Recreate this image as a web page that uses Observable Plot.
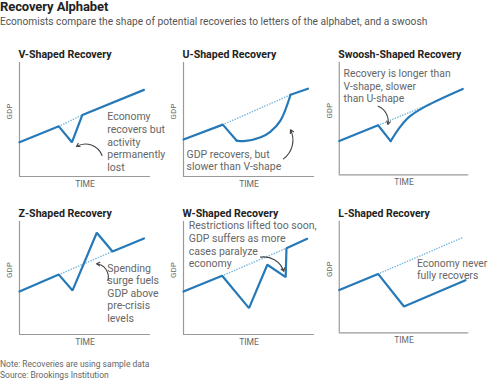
<!DOCTYPE html>
<html><head><meta charset="utf-8">
<script src="https://cdn.jsdelivr.net/npm/d3@7"></script>
<script src="https://cdn.jsdelivr.net/npm/@observablehq/plot@0.6"></script>
<style>
body{margin:0;background:#fff;width:488px;height:382px;position:relative;overflow:hidden;font-family:Roboto,sans-serif;}
.abs{position:absolute;white-space:nowrap;}
#title{left:0;top:0px;font-size:13px;line-height:13px;font-weight:700;color:#222;letter-spacing:-0.1px;}
#sub{left:0;top:16px;font-size:10.2px;line-height:12px;color:#555;}
#foot{left:0;top:359px;font-size:8.5px;color:#666;line-height:11px;}
.panel{position:absolute;}
.panel svg{overflow:visible;}
</style></head><body>
<div id="title" class="abs">Recovery Alphabet</div>
<div id="sub" class="abs">Economists compare the shape of potential recoveries to letters of the alphabet, and a swoosh</div>
<div id="foot" class="abs">Note: Recoveries are using sample data<br>Source: Brookings Institution</div>
<script>
// ---- data (time 0-100, GDP 0-100, sample shapes) ----
const titles = ["V-Shaped Recovery","U-Shaped Recovery","Swoosh-Shaped Recovery","Z-Shaped Recovery","W-Shaped Recovery","L-Shaped Recovery"];
const axisX = "TIME";
const axisY = "GDP";

const vLine = [[0,30],[30,44],[40,30],[48,54],[95,76]];
const vTrend = [[30,44],[48,54]];
const vNote = "Economy\nrecovers but\nactivity\npermanently\nlost";

const uLine = [[0,32.5],[30,45.5],[40.5,31.5]];
const uCurve = [[40.5,31.5],[46,31],[59,34.5],[66,39],[74,49],[81.7,71.7]];
const uTail = [[81.7,71.7],[95,77]];
const uTrend = [[30,45.5],[81.7,71.7]];
const uNote = "GDP recovers, but\nslower than V-shape";

const sLine = [[0,30],[30,44],[39.7,30]];
const sCurve = [[39.7,30],[46.6,42],[54,51.5],[67,61],[95.4,76.3]];
const sTrend = [[30,44],[66,61]];
const sNote = "Recovery is longer than\nV-shape, slower\nthan U-shape";

const zLine = [[0,38],[30,53],[40.5,39],[59,90],[71,73.5],[95,85]];
const zTrend = [[30,53],[71,73.5]];
const zNote = "Spending\nsurge fuels\nGDP above\npre-crisis\nlevels";

const wLine = [[0,38],[29.5,52],[50,23.3],[64,61.7],[78,50.7],[78.6,76.4],[94.4,84.7]];
const wTrend = [[29.5,52],[78.6,76.4]];
const wNote = "Restrictions lifted too soon,\nGDP suffers as more\ncases paralyze\neconomy";

const lLine = [[0,38.3],[30,52.8],[50,23.6],[97.5,47.2]];
const lTrend = [[30,52.8],[95,85.2]];
const lNote = "Economy never\nfully recovers";

// note anchor [time, gdp] and arrow [x1,y1,x2,y2,bend]
const noteAt = [[67,30.7],[2.3,14.6],[3.3,79.1],[67,37],[4,79.8],[60,57.1]];
const arrows = [[63,18.4,43.5,26.3,-50],[76.3,15.5,81.7,41,-40],[30,60.8,37.6,44.7,40],[67.4,47.8,58.8,62.6,-50],[58.8,68.5,76.6,55.8,40],null];

// ---- layout ----
const colLeft = [19,183,339], rowTop = [62,221], rowH = [114,113], fw = 131;
const mL = 20, mR = 20, mT = 25, mB = 18;
const BLUE = "#2579b8", DOT = "#7dbbe0";

const panels = [
  {lines:[vLine], curves:[], trend:vTrend, note:vNote},
  {lines:[uLine,uTail], curves:[uCurve], trend:uTrend, note:uNote},
  {lines:[sLine], curves:[sCurve], trend:sTrend, note:sNote},
  {lines:[zLine], curves:[], trend:zTrend, note:zNote},
  {lines:[wLine], curves:[], trend:wTrend, note:wNote},
  {lines:[lLine], curves:[], trend:lTrend, note:lNote}
];

panels.forEach((p, i) => {
  const col = i % 3, row = Math.floor(i / 3);
  const h = rowH[row];
  const marks = [
    Plot.ruleX([0], {stroke:"#9a9a9a", strokeWidth:1.2}),
    Plot.ruleY([0], {stroke:"#9a9a9a", strokeWidth:1.2}),
    Plot.line(p.trend, {x:d=>d[0], y:d=>d[1], stroke:DOT, strokeWidth:1.6, strokeDasharray:"0.1,2.6", strokeLinecap:"round"}),
    ...p.lines.map(l => Plot.line(l, {x:d=>d[0], y:d=>d[1], stroke:BLUE, strokeWidth:2.2, strokeLinejoin:"miter"})),
    ...p.curves.map(l => Plot.line(l, {x:d=>d[0], y:d=>d[1], stroke:BLUE, strokeWidth:2.2, curve:"catmull-rom"})),
    Plot.text([p.note], {x:noteAt[i][0], y:noteAt[i][1], text:d=>d, textAnchor:"start", lineAnchor:"middle", fontSize:10.5, lineHeight:1.2, fill:"#666"}),
    Plot.text([titles[i]], {frameAnchor:"top-left", dx:-1, dy:row ? -12 : -12, text:d=>d, textAnchor:"start", fontSize:10.6, fontWeight:"bold", fill:"#222"}),
    Plot.text([axisY], {frameAnchor:"left", dx:-10, text:d=>d, rotate:-90, fontSize:8, fill:"#666"}),
    Plot.text([axisX], {frameAnchor:"bottom", dy:10, text:d=>d, fontSize:8.5, fill:"#666"})
  ];
  const a = arrows[i];
  if (a) marks.push(Plot.arrow([a], {x1:d=>d[0], y1:d=>d[1], x2:d=>d[2], y2:d=>d[3], bend:a[4], stroke:"#444", strokeWidth:1.1, headLength:5}));
  const chart = Plot.plot({
    width: mL + fw + mR, height: mT + h + mB,
    marginLeft: mL, marginRight: mR, marginTop: mT, marginBottom: mB,
    x: {domain:[0,100], axis:null},
    y: {domain:[0,100], axis:null},
    style: {fontFamily:"Roboto, sans-serif", background:"transparent", overflow:"visible"},
    marks
  });
  const div = document.createElement("div");
  div.className = "panel";
  div.style.left = (colLeft[col] - mL) + "px";
  div.style.top = (rowTop[row] - mT) + "px";
  div.appendChild(chart);
  document.body.appendChild(div);
});
</script>
</body></html>
